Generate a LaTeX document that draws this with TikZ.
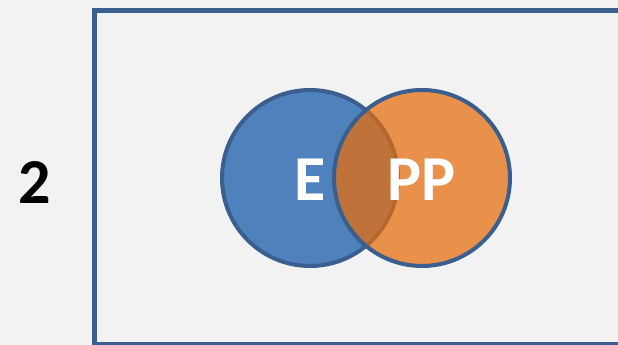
\documentclass[tikz,border=0pt]{standalone}
\usepackage{fontspec}
\setmainfont{Carlito}
\usepackage{tikz}
\definecolor{pagegray}{HTML}{F2F2F2}
\definecolor{rimblue}{HTML}{3A5F8E}
\definecolor{setblue}{HTML}{4F81BD}
\definecolor{setorange}{HTML}{E9904A}
\definecolor{setmix}{HTML}{BF733B}
\definecolor{mixrim}{HTML}{B4672F}
\tikzset{
	setlabel/.style={text=white, font=\bfseries\fontsize{48}{48}\selectfont, inner sep=0pt},
	rownum/.style={text=black, font=\bfseries\fontsize{48}{48}\selectfont, inner sep=0pt}
}
\def\rad{88}

\begin{document}
\begin{tikzpicture}[x=0.75pt, y=-0.75pt]
		%%%%% START %%%%%
		
		\fill[pagegray] (0, 0) rectangle (618, 345);
		\useasboundingbox (0, 0) rectangle (618, 345);
		\clip (0, 0) rectangle (618, 345);
		
		\draw[line width=3.4pt, color=rimblue] (94.5, 10.5) rectangle (660, 344);
		
		\draw[line width=3pt, color=rimblue, fill=setblue] (310, 178) circle (\rad);
		\fill[setorange] (422, 178) circle (\rad);
		
		\begin{scope}
			\clip (310, 178) circle (\rad);
			\fill[setmix] (422, 178) circle (\rad);
		\end{scope}
		\begin{scope}
			\clip (422, 178) circle (\rad);
			\draw[line width=3pt, color=mixrim] (310, 178) circle (\rad);
		\end{scope}
		
		\draw[line width=3pt, color=rimblue] (422, 178) circle (\rad);
		
		\node[setlabel] (labelE) at (310, 180) {E};
		\node[setlabel] (labelPP) at (422, 180) {PP};
		\node[rownum] (rowtwo) at (35, 183) {2};
		
		%%%%% END %%%%%
\end{tikzpicture}
\end{document}
